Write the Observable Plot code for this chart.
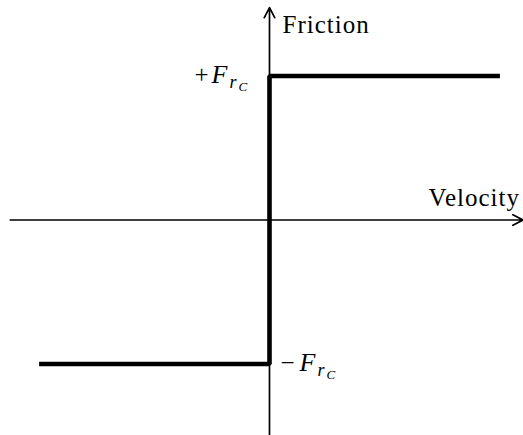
<!DOCTYPE html>
<html>
<head>
<meta charset="utf-8">
<script src="https://cdn.jsdelivr.net/npm/d3@7"></script>
<script src="https://cdn.jsdelivr.net/npm/@observablehq/plot@0.6"></script>
<style>
  html, body { margin: 0; padding: 0; background: #fff; }
  #chart svg { overflow: visible; }
  #chart svg text { font-family: "Liberation Serif", serif; }
  #chart svg text.title { letter-spacing: 1px; }
</style>
</head>
<body>
<div id="chart"></div>
<script>
// Coulomb friction: a constant magnitude that always opposes the motion
const velocity = [-1.6, 0, 0, 1.6];
const friction = [-1, -1, 1, 1];

// Axis extents (tail, tip) in data units
const velocityAxis = [-1.8, 1.76];
const frictionAxis = [-1.5, 1.475];
const axisTitles = ["Velocity", "Friction"];

// Friction levels labelled on the vertical axis: ±F_{r_C}
const levels = [1, -1];
const levelSigns = ["+", "\u2212"];
const symbolParts = ["F", "r", "C"];

const serif = "Liberation Serif";

// One label = sign + italic F + subscript r + sub-subscript C
function levelLabel(i, side) {
  const y = levels[i];
  const base = side < 0 ? -75 : 11;      // start of the sign, px from the axis
  const fStart = side < 0 ? -58 : 30;    // start of the F
  const common = {x: 0, y, textAnchor: "start", lineAnchor: "bottom", fill: "black", fontFamily: serif};
  return [
    Plot.text([levelSigns[i]], {...common, text: d => d, dx: base, dy: 7, fontSize: 25}),
    Plot.text([symbolParts[0]], {...common, text: d => d, dx: fStart, dy: 7, fontSize: 26, fontStyle: "italic"}),
    Plot.text([symbolParts[1]], {...common, text: d => d, dx: fStart + 18, dy: 12, fontSize: 18, fontStyle: "italic"}),
    Plot.text([symbolParts[2]], {...common, text: d => d, dx: fStart + 27, dy: 15, fontSize: 13, fontStyle: "italic"})
  ];
}

const idx = d3.range(velocity.length);

const chart = Plot.plot({
  width: 523,
  height: 435,
  margin: 0,
  x: {domain: [-269 / 144, 254 / 144], axis: null},
  y: {domain: [-215.5 / 144, 219.5 / 144], axis: null},
  marks: [
    // axes with arrow heads
    Plot.arrow([velocityAxis], {
      x1: d => d[0], x2: d => d[1], y1: 0, y2: 0,
      stroke: "black", strokeWidth: 1.7, headLength: 10, headAngle: 55
    }),
    Plot.arrow([frictionAxis], {
      x1: 0, x2: 0, y1: d => d[0], y2: d => d[1],
      stroke: "black", strokeWidth: 1.7, headLength: 10, headAngle: 55
    }),
    // friction characteristic
    Plot.line(idx, {
      x: i => velocity[i], y: i => friction[i],
      stroke: "black", strokeWidth: 4.6, strokeLinejoin: "miter", strokeLinecap: "butt"
    }),
    // axis titles
    Plot.text([axisTitles[1]], {
      x: 0, y: frictionAxis[1], text: d => d, fontFamily: serif,
      textAnchor: "start", lineAnchor: "bottom", dx: 13, dy: 25, fontSize: 25, fill: "black"
    }),
    Plot.text([axisTitles[0]], {
      x: velocityAxis[1], y: 0, text: d => d, fontFamily: serif,
      textAnchor: "end", lineAnchor: "bottom", dx: -3, dy: -14.5, fontSize: 25, fill: "black"
    }),
    ...levelLabel(0, -1),
    ...levelLabel(1, 1)
  ]
});

// axis titles get a touch of extra tracking
chart.querySelectorAll("text").forEach(t => {
  if (axisTitles.includes(t.textContent)) t.classList.add("title");
});

document.getElementById("chart").append(chart);
</script>
</body>
</html>
